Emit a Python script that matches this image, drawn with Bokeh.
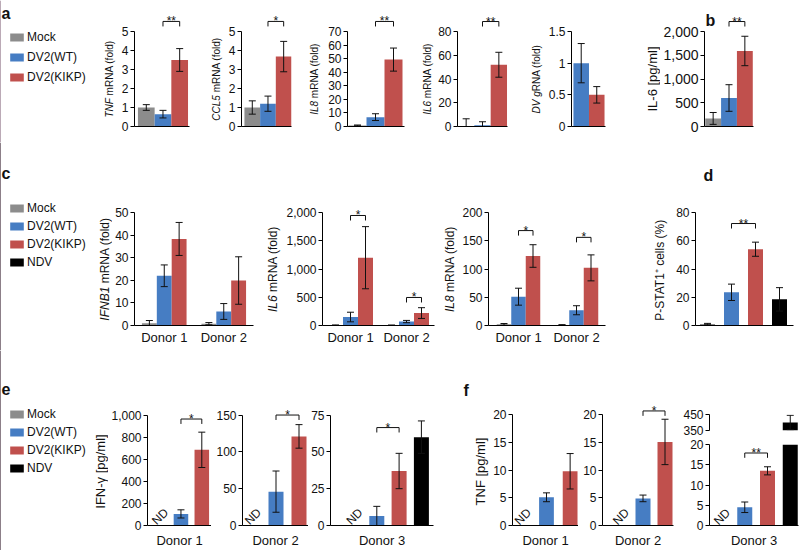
import math
from bokeh.plotting import figure
from bokeh.models import Range1d, FixedTicker, NumeralTickFormatter, Label, Legend, LegendItem
from bokeh.layouts import row, column
from bokeh.embed import file_html
from bokeh.resources import INLINE
from bokeh.core.properties import value

FONT = "Liberation Sans"
INK = "#111111"

# ------------------------------------------------------------------ data
conditions = ["Mock", "DV2(WT)", "DV2(KIKP)", "NDV"]
colors = ["#8C8C8C", "#467DC3", "#C0504D", "#000000"]
donors = ["Donor 1", "Donor 2", "Donor 3"]

# panel a (Mock, DV2(WT), DV2(KIKP))
tnf_mean = [1.0, 0.65, 3.5]
tnf_err = [0.15, 0.2, 0.6]
ccl5_mean = [1.0, 1.2, 3.68]
ccl5_err = [0.35, 0.4, 0.8]
il8_mean = [0.8, 6.9, 49.3]
il8_err = [0.3, 2.5, 8.5]
il6_mean = [0.5, 1.0, 52.0]
il6_err = [6.0, 3.0, 10.5]
dvg_mean = [1.0, 0.5]          # DV2(WT), DV2(KIKP)
dvg_err = [0.31, 0.13]
# panel b
il6pg_mean = [170, 600, 1590]
il6pg_err = [125, 280, 310]
# panel c, per donor: Mock, DV2(WT), DV2(KIKP)
ifnb1_mean = [[1.0, 22.0, 38.3], [0.8, 6.2, 19.9]]
ifnb1_err = [[1.2, 4.8, 7.3], [0.5, 3.5, 10.5]]
il6c_mean = [[5, 150, 1200], [5, 70, 220]]
il6c_err = [[5, 85, 550], [3, 20, 95]]
il8c_mean = [[2.0, 51, 123], [1.0, 27, 102]]
il8c_err = [[1.5, 15, 20], [0.5, 8, 23]]
# panel d: Mock, DV2(WT), DV2(KIKP), NDV
pstat1_mean = [1.0, 23.5, 54.0, 18.5]
pstat1_err = [0.5, 5.8, 5.0, 8.3]
# panel e: IFN-gamma per donor (Mock not detected)
ifng_mean = [[None, 105, 685], [None, 46, 121], [None, 6.5, 37, 60]]
ifng_err = [[None, 37, 160], [None, 28, 16], [None, 6.5, 12, 11]]
# panel f: TNF per donor (Mock not detected)
tnfp_mean = [[None, 5.1, 9.8], [None, 4.9, 15.1], [None, 4.5, 13.5, 400]]
tnfp_err = [[None, 0.8, 3.2], [None, 0.6, 4.1], [None, 1.3, 1.0, 45]]

# significance marks
sig_a = {"tnf": "**", "ccl5": "*", "il8": "**", "il6": "**", "b": "**"}
sig_c = {"il6": ["*", "*"], "il8": ["*", "*"], "d": "**"}
sig_e = ["*", "*", "*"]
sig_f = [None, "*", "**"]

# ------------------------------------------------------------------ helpers
CW = {' ': 278, '(': 333, ')': 333, '[': 278, ']': 278, '/': 278, '-': 333, '%': 889,
      '+': 584, '\u207a': 400, '.': 278, ',': 278, 'A': 667, 'B': 667, 'C': 722, 'D': 722,
      'E': 667, 'F': 611, 'G': 778, 'I': 278, 'K': 667, 'L': 556, 'M': 833, 'N': 722,
      'P': 667, 'R': 722, 'S': 667, 'T': 611, 'V': 667, 'W': 944, 'a': 556, 'c': 500,
      'd': 556, 'e': 556, 'f': 278, 'g': 556, 'l': 222, 'm': 833, 'n': 556, 'o': 556,
      'p': 556, 'r': 333, 's': 500, '\u03b3': 500}


def text_w(s, size):
    return sum(CW.get(ch, 556) for ch in s) * size / 1000.0


def blank_fig(box):
    L, T, R, B = box
    p = figure(width=R - L, height=B - T, x_range=Range1d(L, R), y_range=Range1d(B, T),
               output_backend="svg", toolbar_location=None, title_location=None,
               x_axis_location=None, y_axis_location=None, frame_align=False,
               min_border_left=0, min_border_right=0, min_border_top=0, min_border_bottom=0)
    p.outline_line_color = None
    p.xgrid.visible = False
    p.ygrid.visible = False
    return p


def letter_label(txt, x, y):
    return Label(x=x, y=y, text=txt, text_font=FONT, text_font_style="bold",
                 text_font_size="16px", text_align="left", text_baseline="alphabetic",
                 text_color=INK)


def legend_fig(box, lx, lt, n, spacing, letter, letter_x, letter_base):
    L, T, R, B = box
    p = blank_fig(box)
    items = []
    for c, col in zip(conditions[:n], colors[:n]):
        r = p.vbar(x=[L - 1000], top=[T], bottom=B, width=1, fill_color=col, line_color=None)
        items.append(LegendItem(label=c, renderers=[r]))
    lh = 16
    legend_h = n * lh + (n - 1) * spacing
    leg = Legend(items=items, location=(lx - L, (B - lt) - legend_h), margin=0, padding=0,
                 spacing=spacing, glyph_width=17, glyph_height=10, label_height=lh,
                 label_standoff=2, label_text_font=FONT, label_text_font_size="12px",
                 label_text_color=INK, border_line_color=None, background_fill_alpha=0)
    p.add_layout(leg)
    p.add_layout(letter_label(letter, letter_x, letter_base))
    return p


def title_fig(box, xc, yc, italic, normal, gap, size):
    p = blank_fig(box)
    wi = text_w(italic, size)
    wn = text_w(normal, size)
    ws = text_w(" ", size) if gap else 0
    base = -(wi + ws + wn) / 2
    common = dict(x=xc, y=yc, angle=math.pi / 2, text_baseline="middle", text_font=FONT,
                  text_font_size=f"{size}px", text_color=INK)
    if italic:
        p.add_layout(Label(y_offset=base + wi, text=italic, text_align="right",
                           text_font_style="italic", **common))
    if normal:
        p.add_layout(Label(y_offset=base + wi + ws, text=normal, text_align="left",
                           text_font_style="normal", **common))
    return p


def bar_chart(box, frame, pmax, ymax, ticks, xs, means, errs, cols, bw, c0, W,
              y0=0.0, fmt=None, tick_px=12, tick_standoff=2, sig=(), xticks=None,
              xlabel=None, show_xaxis=True, show_nd=True, letter=None):
    L, T, R, B = box
    fl, ft, fr, fb = frame
    dpp = (ymax - y0) / (fb - pmax)
    xr = Range1d((fl - c0) / W, (fr - c0) / W)
    yr = Range1d(y0, y0 + (fb - ft) * dpp)
    p = figure(width=R - L, height=B - T, x_range=xr, y_range=yr,
               output_backend="svg", toolbar_location=None, title_location=None,
               frame_align=False,
               min_border_left=fl - L, min_border_right=R - fr,
               min_border_top=ft - T, min_border_bottom=B - fb)
    p.outline_line_color = None
    p.xgrid.visible = False
    p.ygrid.visible = False

    bx, bt, bc, ex, elo, ehi, cx, cy, ndx = [], [], [], [], [], [], [], [], []
    for x, m, e, c in zip(xs, means, errs, cols):
        if m is None:
            ndx.append(x)
            continue
        if m + e <= y0:          # entirely below a broken-axis segment
            continue
        lo, hi = m - e, m + e
        if m > y0:
            bx.append(x); bt.append(m); bc.append(c)
        ex.append(x); elo.append(max(lo, y0)); ehi.append(hi)
        cx.append(x); cy.append(hi)
        if lo > y0:
            cx.append(x); cy.append(lo)
    p.vbar(x=bx, top=bt, bottom=y0, width=bw, fill_color=bc, line_color=None)
    p.segment(x0=ex, y0=elo, x1=ex, y1=ehi, line_color=INK, line_width=1)
    p.scatter(x=cx, y=cy, marker="dash", size=7, line_color=INK, line_width=1)
    if ndx and show_nd:
        p.text(x=ndx, y=[y0 + 9 * dpp] * len(ndx), text=["ND"] * len(ndx), angle=math.pi / 4,
               text_align="center", text_baseline="middle", text_font=value(FONT),
               text_font_size=value("12px"), text_color=INK)
    for (xi, xj, lev, s) in sig:
        d = 5 * dpp
        p.line(x=[xi, xi, xj, xj], y=[lev - d, lev, lev, lev - d], line_color=INK, line_width=1)
        p.text(x=[(xi + xj) / 2], y=[lev], text=[s], text_align="center",
               text_baseline="alphabetic", text_font=value(FONT),
               text_font_size=value("12px"), text_color=INK)

    ya = p.yaxis[0]
    ya.bounds = (y0, ymax)
    ya.ticker = FixedTicker(ticks=ticks)
    if fmt:
        ya.formatter = NumeralTickFormatter(format=fmt)
    ya.major_tick_in = 0
    ya.major_tick_out = 4
    ya.minor_tick_line_color = None
    ya.axis_line_color = "#000000"
    ya.major_tick_line_color = "#000000"
    ya.major_label_text_font = FONT
    ya.major_label_text_font_size = f"{tick_px}px"
    ya.major_label_text_color = INK
    ya.major_label_standoff = tick_standoff

    xa = p.xaxis[0]
    if not show_xaxis:
        xa.visible = False
    xa.ticker = FixedTicker(ticks=list(xticks) if xticks else [])
    if xticks:
        xa.major_label_overrides = {t: donors[i] for i, t in enumerate(xticks)}
    xa.major_tick_in = 0
    xa.major_tick_out = 0
    xa.major_tick_line_color = None
    xa.minor_tick_line_color = None
    xa.axis_line_color = "#000000"
    xa.major_label_standoff = 4 if xticks else 0
    xa.major_label_text_font = FONT
    xa.major_label_text_font_size = "13px"
    xa.major_label_text_color = INK
    if xlabel:
        xa.axis_label = xlabel
        xa.axis_label_text_font = FONT
        xa.axis_label_text_font_style = "normal"
        xa.axis_label_text_font_size = "13px"
        xa.axis_label_text_color = INK
        xa.axis_label_standoff = 7
    if letter:
        txt, xp, yp = letter
        p.add_layout(letter_label(txt, (xp - c0) / W, y0 + (fb - yp) * dpp))
    return p


def grouped(means, errs, bwi):
    xs, ms, es, cs = [], [], [], []
    for d, (mm, ee) in enumerate(zip(means, errs)):
        for k, (m, e) in enumerate(zip(mm, ee)):
            xs.append(d + (k - 1) * bwi); ms.append(m); es.append(e); cs.append(colors[k])
    return xs, ms, es, cs


idx3 = [0, 1, 2]
idx4 = [0, 1, 2, 3]
col3 = colors[:3]

# ------------------------------------------------------------------ band A (panels a, b)
TA, BA = 0, 142
FTA, PMA, FBA = 10, 31, 126
YCA = (PMA + FBA) / 2

legA = legend_fig((0, TA, 100, BA), 8, 29, 3, 4, "a", 1, 13)
ta1 = title_fig((100, TA, 118, BA), 109, YCA, "TNF", "mRNA (fold)", True, 10)
pa1 = bar_chart((118, TA, 207, BA), (133, FTA, 189, FBA), PMA, 5, [0, 1, 2, 3, 4, 5],
                idx3, tnf_mean, tnf_err, col3, 1.0, 145, 17, sig=[(1, 2, 5.53, sig_a["tnf"])])
ta2 = title_fig((207, TA, 225, BA), 216, YCA, "CCL5", "mRNA (fold)", True, 10)
pa2 = bar_chart((225, TA, 305, BA), (240, FTA, 291, FBA), PMA, 5, [0, 1, 2, 3, 4, 5],
                idx3, ccl5_mean, ccl5_err, col3, 1.0, 251, 16, sig=[(1, 2, 5.53, sig_a["ccl5"])])
ta3 = title_fig((305, TA, 323, BA), 314, YCA, "IL8", "mRNA (fold)", True, 10)
pa3 = bar_chart((323, TA, 418, BA), (347, FTA, 404, FBA), PMA, 70, list(range(0, 71, 10)),
                idx3, il8_mean, il8_err, col3, 1.0, 357, 18, sig=[(1, 2, 77.4, sig_a["il8"])])
ta4 = title_fig((418, TA, 435, BA), 427, YCA, "IL6", "mRNA (fold)", True, 10)
pa4 = bar_chart((435, TA, 527, BA), (455, FTA, 507, FBA), PMA, 80, list(range(0, 81, 20)),
                idx3, il6_mean, il6_err, col3, 1.0, 464, 17, sig=[(1, 2, 88.4, sig_a["il6"])])
ta5 = title_fig((527, TA, 545, BA), 536, YCA, "DV g", "RNA (fold)", False, 10)
pa5 = bar_chart((545, TA, 642, BA), (570, FTA, 605, FBA), PMA, 1.5, [0, 0.5, 1, 1.5],
                [0, 1], dvg_mean, dvg_err, colors[1:3], 1.0, 580, 16, fmt="0.[0]")
tb = title_fig((642, TA, 660, BA), 652, YCA, "", "IL-6 [pg/ml]", False, 13)
pb = bar_chart((660, TA, 799, BA), (702, FTA, 753, FBA), PMA, 2000, [0, 500, 1000, 1500, 2000],
               idx3, il6pg_mean, il6pg_err, col3, 1.0, 711, 16.5, fmt="0,0", tick_px=14,
               sig=[(1, 2, 2210, sig_a["b"])], letter=("b", 703, 20))

# ------------------------------------------------------------------ band C (panels c, d)
TC, BC = 142, 350
FTC, PMC, FBC = 196, 212, 325
YCC = (PMC + FBC) / 2

legC = legend_fig((0, TC, 96, BC), 8, 200, 4, 2, "c", 1, 173)
tc1 = title_fig((96, TC, 112, BC), 104, YCC, "IFNB1", "mRNA (fold)", True, 12)
bw1 = 15 / 60
xs, ms, es, cs = grouped(ifnb1_mean, ifnb1_err, bw1)
pc1 = bar_chart((112, TC, 262, BC), (133, FTC, 253, FBC), PMC, 50, list(range(0, 51, 10)),
                xs, ms, es, cs, bw1, 163, 60, xticks=[0, 1])
tc2 = title_fig((262, TC, 282, BC), 272, YCC, "IL6", "mRNA (fold)", True, 12)
bw2 = 15 / 56
xs, ms, es, cs = grouped(il6c_mean, il6c_err, bw2)
pc2 = bar_chart((282, TC, 440, BC), (322, FTC, 434, FBC), PMC, 2000, [0, 500, 1000, 1500, 2000],
                xs, ms, es, cs, bw2, 350, 56, fmt="0,0", xticks=[0, 1],
                sig=[(0, bw2, 1947, sig_c["il6"][0]), (1, 1 + bw2, 496, sig_c["il6"][1])])
tc3 = title_fig((440, TC, 458, BC), 449, YCC, "IL8", "mRNA (fold)", True, 12)
bw3 = 14.5 / 58
xs, ms, es, cs = grouped(il8c_mean, il8c_err, bw3)
pc3 = bar_chart((458, TC, 610, BC), (488, FTC, 605, FBC), PMC, 200, [0, 50, 100, 150, 200],
                xs, ms, es, cs, bw3, 518, 58, xticks=[0, 1],
                sig=[(0, bw3, 168, sig_c["il8"][0]), (1, 1 + bw3, 156, sig_c["il8"][1])])
td = title_fig((610, TC, 668, BC), 659, YCC, "", "P-STAT1\u207a cells (%)", False, 12)
pd = bar_chart((668, TC, 799, BC), (695, 160, 793, FBC), PMC, 80, [0, 20, 40, 60, 80],
               idx4, pstat1_mean, pstat1_err, colors, 15 / 24, 707, 24,
               sig=[(1, 2, 72.2, sig_c["d"])], letter=("d", 703, 175))

# ------------------------------------------------------------------ band E (panels e, f)
TE, BE = 350, 550
FTE, PME, FBE = 382, 415, 527
FBF = 528
YCE = (PME + FBE) / 2

legE = legend_fig((0, TE, 92, BE), 8, 406, 4, 2, "e", 1, 388)
te = title_fig((92, TE, 108, BE), 100, YCE, "", "IFN-\u03b3 [pg/ml]", False, 13)
pe1 = bar_chart((108, TE, 211, BE), (145, FTE, 211, FBE), PME, 1000, [0, 200, 400, 600, 800, 1000],
                idx3, ifng_mean[0], ifng_err[0], col3, 15 / 21.5, 158, 21.5, fmt="0,0",
                sig=[(1, 2, 964, sig_e[0])], xlabel=donors[0])
pe2 = bar_chart((211, TE, 308, BE), (242, FTE, 308, FBE), PME, 150, [0, 50, 100, 150],
                idx3, ifng_mean[1], ifng_err[1], col3, 15 / 23, 252.5, 23,
                sig=[(1, 2, 150, sig_e[1])], xlabel=donors[1])
pe3 = bar_chart((308, TE, 440, BE), (330, FTE, 433, FBE), PME, 75, [0, 25, 50, 75],
                idx4, ifng_mean[2], ifng_err[2], colors, 15 / 22.3, 354, 22.3,
                sig=[(1, 2, 66.5, sig_e[2])], xlabel=donors[2])
lf = blank_fig((440, TE, 472, BE))
lf.add_layout(letter_label("f", 463, 390))
tf = title_fig((472, TE, 490, BE), 480, YCE, "", "TNF [pg/ml]", False, 13)
pf1 = bar_chart((490, TE, 578, BE), (511, FTE, 578, FBF), PME, 20, [0, 5, 10, 15, 20],
                idx3, tnfp_mean[0], tnfp_err[0], col3, 15 / 24, 521.5, 24, xlabel=donors[0])
pf2 = bar_chart((578, TE, 676, BE), (602, FTE, 673, FBF), PME, 20, [0, 5, 10, 15, 20],
                idx3, tnfp_mean[1], tnfp_err[1], col3, 15 / 22, 620.5, 22,
                sig=[(1, 2, 20.7, sig_f[1])], xlabel=donors[1])
pf3u = bar_chart((676, TE, 799, 437), (709, 414, 798, 430), 414, 450, [350, 450],
                 idx4, tnfp_mean[2], tnfp_err[2], colors, 15 / 22.75, 721.5, 22.75,
                 y0=350, show_xaxis=False, show_nd=False)
pf3l = bar_chart((676, 437, 799, BE), (709, 444, 798, FBF), 444, 20, [0, 5, 10, 15, 20],
                 idx4, tnfp_mean[2], tnfp_err[2], colors, 15 / 22.75, 721.5, 22.75,
                 sig=[(1, 2, 17.9, sig_f[2])], xlabel=donors[2])

layout = column(
    row(legA, ta1, pa1, ta2, pa2, ta3, pa3, ta4, pa4, ta5, pa5, tb, pb),
    row(legC, tc1, pc1, tc2, pc2, tc3, pc3, td, pd),
    row(legE, te, pe1, pe2, pe3, lf, tf, pf1, pf2, column(pf3u, pf3l)),
)

open("out.html", "w").write(file_html(layout, INLINE, title="Figure"))
